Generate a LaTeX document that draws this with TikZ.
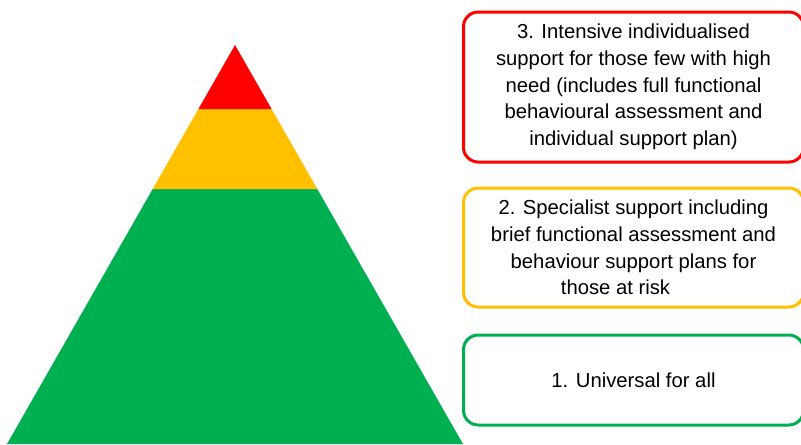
\documentclass[tikz,border=0pt]{standalone}
\usepackage{fontspec}
\setmainfont{Liberation Sans}
\definecolor{tierred}{HTML}{FF0000}
\definecolor{tieryellow}{HTML}{FFC000}
\definecolor{tiergreen}{HTML}{00B050}
\begin{document}
\begin{tikzpicture}[x=0.75pt,y=-0.75pt,
    tierbox/.style={draw, line width=2.25pt, rounded corners=11pt, fill=white,
      minimum width=255pt, align=center, inner sep=0pt,
      font=\fontsize{15.2}{20}\selectfont}]
  \useasboundingbox (0,0) rectangle (801,444);
  % pyramid
  \coordinate (apex) at (235,45);
  \coordinate (rl) at (198.4,109);
  \coordinate (rr) at (271.6,109);
  \coordinate (yl) at (152.7,189);
  \coordinate (yr) at (317.3,189);
  \coordinate (gl) at (7,444);
  \coordinate (gr) at (463,444);
  \fill[tiergreen] (gl) -- (yl) -- (yr) -- (gr) -- cycle;
  \fill[tieryellow] (yl) -- (rl) -- (rr) -- (yr) -- cycle;
  \fill[tierred] (rl) -- (apex) -- (rr) -- cycle;
  % boxes
  \node[tierbox, draw=tierred, minimum height=112.5pt] (three) at (633.5,87)
    {3. Intensive individualised\\support for those few with\ high\\need (includes full functional\\behavioural assessment and\\individual support plan)};
  \node[tierbox, draw=tieryellow, minimum height=89.25pt] (two) at (633.5,247.5)
    {2. Specialist support including\\brief functional assessment and\\behaviour support plans for\\those at risk\hspace*{27pt}};
  \node[tierbox, draw=tiergreen, minimum height=67.5pt] (one) at (633.5,380)
    {1. Universal for all};
\end{tikzpicture}
\end{document}
